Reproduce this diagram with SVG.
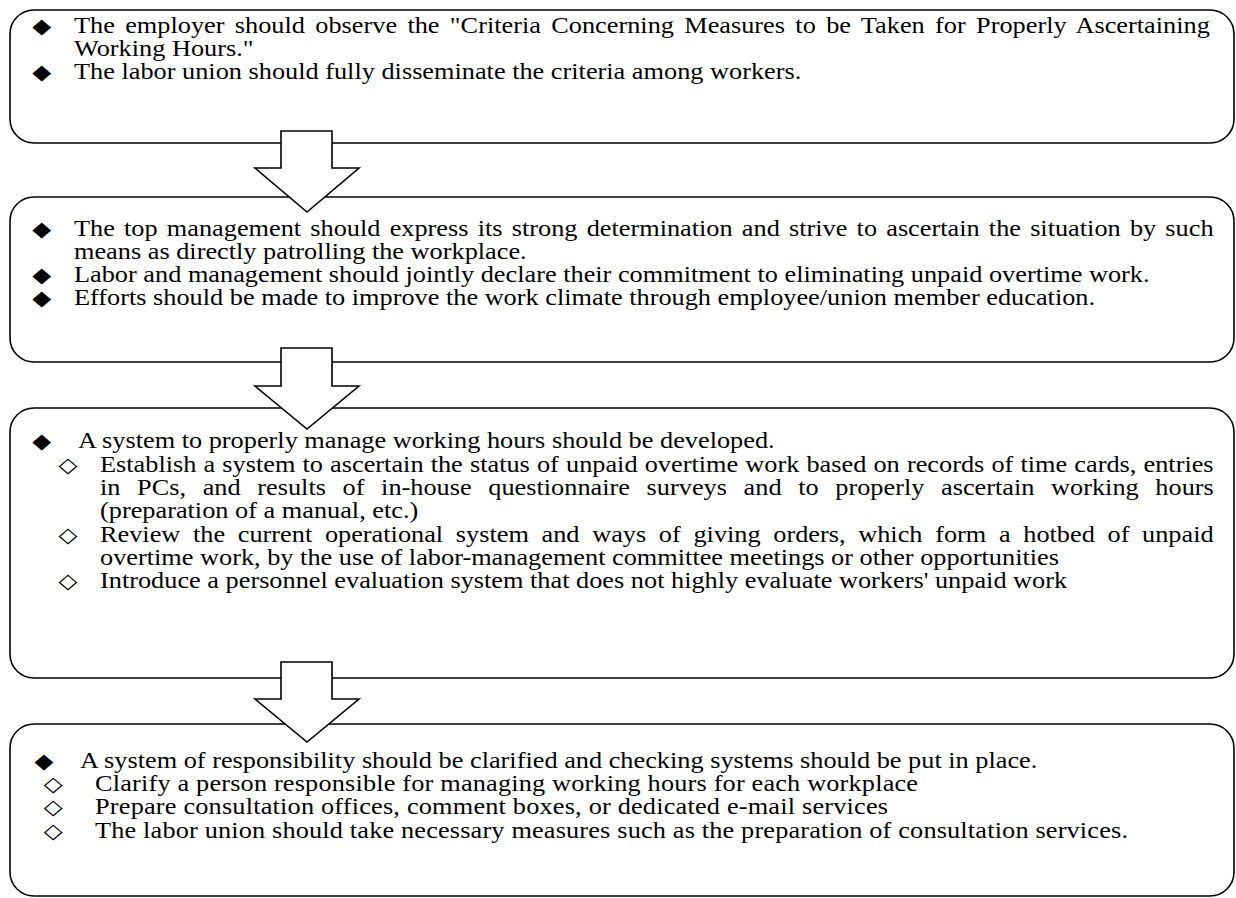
<svg xmlns="http://www.w3.org/2000/svg" width="1236" height="898" viewBox="0 0 1236 898">
<style>
.box{fill:#fff;stroke:#000;stroke-width:1.6}
.arr{fill:#fff;stroke:#000;stroke-width:1.6;stroke-linejoin:miter}
.t{font-family:"Liberation Serif","Times New Roman",serif;font-size:22.5px;fill:#000}
.b{font-family:"DejaVu Sans",sans-serif;font-size:21px;fill:#000}
</style>
<g id="box1"><rect class="box" x="10" y="10" width="1224" height="133" rx="24" ry="24"/>
<g transform="scale(1.1689 1)">
<text class="b" x="27.5" y="33">◆</text>
<text class="t" x="63.3" y="33" word-spacing="3.22">The employer should observe the "Criteria Concerning Measures to be Taken for Properly Ascertaining</text>
<text class="t" x="63.3" y="56">Working Hours."</text>
<text class="b" x="27.5" y="79">◆</text>
<text class="t" x="63.3" y="79">The labor union should fully disseminate the criteria among workers.</text>
</g></g>
<g id="box2"><rect class="box" x="10" y="197" width="1224" height="165" rx="24" ry="24"/>
<g transform="scale(1.1689 1)">
<text class="b" x="27.5" y="236">◆</text>
<text class="t" x="63.3" y="236" word-spacing="2.23">The top management should express its strong determination and strive to ascertain the situation by such</text>
<text class="t" x="63.3" y="259">means as directly patrolling the workplace.</text>
<text class="b" x="27.5" y="282">◆</text>
<text class="t" x="63.3" y="282">Labor and management should jointly declare their commitment to eliminating unpaid overtime work.</text>
<text class="b" x="27.5" y="305">◆</text>
<text class="t" x="63.3" y="305">Efforts should be made to improve the work climate through employee/union member education.</text>
</g></g>
<g id="box3"><rect class="box" x="10" y="408" width="1224" height="270" rx="24" ry="24"/>
<g transform="scale(1.1689 1)">
<text class="b" x="27.5" y="448">◆</text>
<text class="t" x="66.7" y="448">A system to properly manage working hours should be developed.</text>
<text class="b" x="50" y="472">◇</text>
<text class="t" x="85.55" y="472" word-spacing="0.48">Establish a system to ascertain the status of unpaid overtime work based on records of time cards, entries</text>
<text class="t" x="85.55" y="495" word-spacing="8.61">in PCs, and results of in-house questionnaire surveys and to properly ascertain working hours</text>
<text class="t" x="85.55" y="518">(preparation of a manual, etc.)</text>
<text class="b" x="50" y="542">◇</text>
<text class="t" x="85.55" y="542" word-spacing="5.21">Review the current operational system and ways of giving orders, which form a hotbed of unpaid</text>
<text class="t" x="85.55" y="565">overtime work, by the use of labor-management committee meetings or other opportunities</text>
<text class="b" x="50" y="588">◇</text>
<text class="t" x="85.55" y="588">Introduce a personnel evaluation system that does not highly evaluate workers' unpaid work</text>
</g></g>
<g id="box4"><rect class="box" x="10" y="724" width="1224" height="172" rx="24" ry="24"/>
<g transform="scale(1.1689 1)">
<text class="b" x="29.6" y="768">◆</text>
<text class="t" x="68.4" y="768">A system of responsibility should be clarified and checking systems should be put in place.</text>
<text class="b" x="37.5" y="791">◇</text>
<text class="t" x="81.3" y="791" textLength="704.1" lengthAdjust="spacing">Clarify a person responsible for managing working hours for each workplace</text>
<text class="b" x="37.5" y="814">◇</text>
<text class="t" x="81.3" y="814" textLength="678.4" lengthAdjust="spacing">Prepare consultation offices, comment boxes, or dedicated e-mail services</text>
<text class="b" x="37.5" y="838">◇</text>
<text class="t" x="81.3" y="838" textLength="883.7" lengthAdjust="spacing">The labor union should take necessary measures such as the preparation of consultation services.</text>
</g></g>
<g id="connectors">
<polygon class="arr" points="281,131 332,131 332,168 359,168 307,212 255,168 281,168"/>
<polygon class="arr" points="281,348 332,348 332,386 359,386 307,429 255,386 281,386"/>
<polygon class="arr" points="281,662 332,662 332,699 359,699 307,742 255,699 281,699"/>
</g>
</svg>
